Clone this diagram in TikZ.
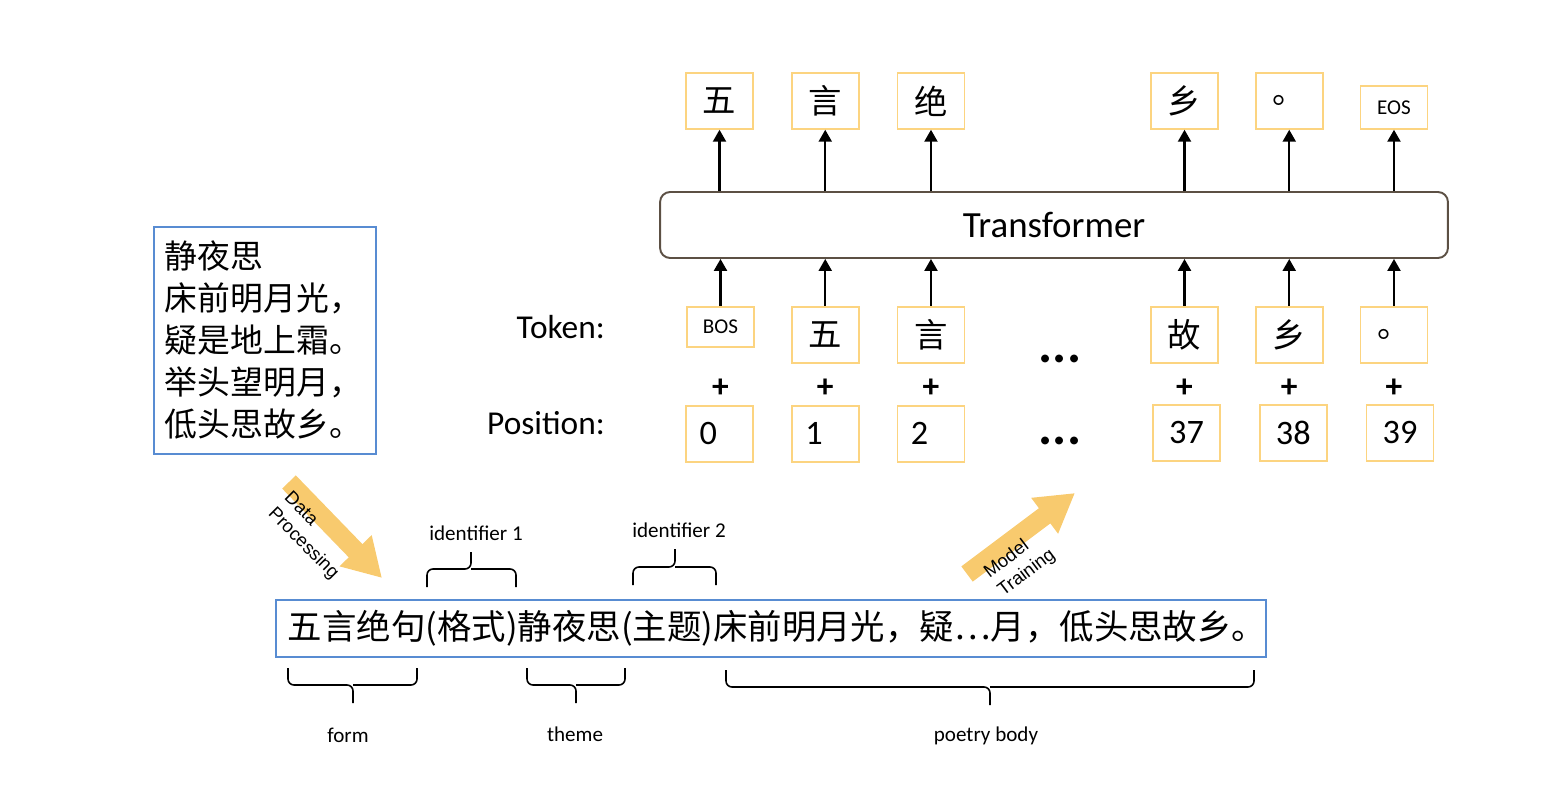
\documentclass[tikz,border=0pt]{standalone}
\usepackage{fontspec}
\setmainfont{Carlito}
\newfontfamily\cjk{Noto Sans CJK SC}
\newfontfamily\arialf{Liberation Sans}
\usetikzlibrary{arrows.meta,positioning}
\definecolor{boxblue}{RGB}{88,140,210}
\definecolor{boxorange}{RGB}{252,212,128}
\definecolor{fatyellow}{RGB}{248,202,110}
\definecolor{tfborder}{RGB}{92,80,68}

\begin{document}
\begin{tikzpicture}[x=0.02cm, y=-0.02cm,
  tbox/.style={draw=boxorange,line width=1pt,minimum width=1.34cm,minimum height=1.12cm,inner sep=2pt,font=\cjk\fontsize{19}{22}\selectfont},
  sbox/.style={tbox,font=\fontsize{12}{14}\selectfont},
  pbox/.style={tbox,font=\fontsize{19.5}{22}\selectfont},
  numl/.style={text width=0.8cm,align=left},
  bluebox/.style={draw=boxblue,line width=1pt},
  tfbox/.style={draw=tfborder,line width=1.1pt,rounded corners=0.2cm,minimum width=15.76cm,minimum height=1.32cm,font=\fontsize{21}{24}\selectfont},
  rowlab/.style={anchor=east,font=\fontsize{19}{22}\selectfont},
  plus/.style={font=\fontsize{19}{22}\selectfont\bfseries},
  dots/.style={font=\fontsize{30}{34}\selectfont\bfseries,inner sep=1pt},
  arr/.style={-{Triangle[length=0.24cm,width=0.26cm]},line width=1.3pt},
  fat/.style={draw=fatyellow,line width=0.38cm,-{Triangle[length=0.76cm,width=0.84cm]}},
  fatlab/.style={font=\arialf\fontsize{10.5}{13}\selectfont,align=left,inner sep=0pt},
  bracket/.style={line width=0.9pt,rounded corners=0.12cm},
  blab/.style={font=\fontsize{12}{14}\selectfont}]
\useasboundingbox (0,0) rectangle (1550,786);

% poem
\node[bluebox,anchor=north west,minimum width=4.44cm,minimum height=4.54cm,text width=4.0cm,inner xsep=0.22cm,align=left,font=\cjk\fontsize{18.7}{23.9}\selectfont] (poem) at (153,226) {静夜思\\床前明月光，\\疑是地上霜。\\举头望明月，\\低头思故乡。};

% transformer
\node[tfbox] (tf) at (1054,225) {Transformer};

% output tokens
\node[tbox,anchor=north] (o1) at (719.5,72) {五};
\node[tbox,right=0.74cm of o1.north east,anchor=north west] (o2) {言};
\node[tbox,right=0.74cm of o2.north east,anchor=north west] (o3) {绝};
\node[tbox,anchor=north] (o4) at (1184.5,72) {乡};
\node[tbox,right=0.72cm of o4.north east,anchor=north west] (o5) {。};
\node[sbox,minimum height=0.86cm,right=0.72cm of o5.south east,anchor=south west] (o6) {EOS};

% input tokens
\node[sbox,minimum height=0.8cm,anchor=north] (t1) at (720.5,306) {BOS};
\node[tbox,right=0.72cm of t1.north east,anchor=north west] (t2) {五};
\node[tbox,right=0.74cm of t2.north east,anchor=north west] (t3) {言};
\node[tbox,anchor=north] (t4) at (1184.5,306) {故};
\node[tbox,right=0.72cm of t4.north east,anchor=north west] (t5) {乡};
\node[tbox,right=0.72cm of t5.north east,anchor=north west] (t6) {。};

% positions
\node[pbox,numl,anchor=north] (p1) at (719.5,405) {0};
\node[pbox,numl,right=0.74cm of p1.north east,anchor=north west] (p2) {1};
\node[pbox,numl,right=0.74cm of p2.north east,anchor=north west] (p3) {2};
\node[pbox,anchor=north] (p4) at (1186.5,404) {37};
\node[pbox,right=0.76cm of p4.north east,anchor=north west] (p5) {38};
\node[pbox,right=0.76cm of p5.north east,anchor=north west] (p6) {39};

\node[rowlab] (toklab) at (611,327) {Token:};
\node[rowlab] (poslab) at (611,423) {Position:};
\node[dots] (dots1) at (1060,359) {...};
\node[dots] (dots2) at (1060,441) {...};

\coordinate (plusrow) at (0,388);
\foreach \i in {1,...,6} {
  \node[plus] (plus\i) at (t\i |- plusrow) {+};
  \draw[arr] (t\i) -- (t\i |- tf.south);
  \draw[arr] (o\i |- tf.north) -- (o\i);
}

% training sample
\node[bluebox,minimum width=19.76cm,minimum height=1.14cm,inner xsep=0pt,font=\cjk\fontsize{19.6}{22}\selectfont] (line) at (771,628.5) {\hspace*{0.24cm}五言绝句(格式)静夜思(主题)床前明月光，疑…月，低头思故乡。};

% brackets above and below
\draw[bracket] (427,587) |- (471,569) -- (471,552);
\draw[bracket] (516,587) |- (471,569);
\draw[bracket] (633,585) |- (675,567) -- (675,549);
\draw[bracket] (716,585) |- (675,567);
\draw[bracket] (288,668) |- (353,685) -- (353,703);
\draw[bracket] (417,668) |- (353,685);
\draw[bracket] (527,668) |- (576,685) -- (576,703);
\draw[bracket] (625,668) |- (576,685);
\draw[bracket] (726,670) |- (990,687) -- (990,705);
\draw[bracket] (1254,670) |- (990,687);
\node[blab] (id1) at (476,533) {identifier 1};
\node[blab] (id2) at (679,530) {identifier 2};
\node[blab] (form) at (348,735) {form};
\node[blab] (theme) at (575,734) {theme};
\node[blab] (body) at (986,736) {poetry body};

% big arrows
\coordinate (dpS) at (289,482);
\coordinate (dpE) at (382,578);
\coordinate (mtS) at (967,574);
\coordinate (mtE) at (1075,493);
\draw[fat] (dpS) -- (dpE);
\draw[fat] (mtS) -- (mtE);
\node[fatlab,rotate=-45] (dplab) at (311,536) {Data\\Processing};
\node[fatlab,rotate=37] (mtlab) at (1020,564) {Model\\Training};
\end{tikzpicture}
\end{document}
